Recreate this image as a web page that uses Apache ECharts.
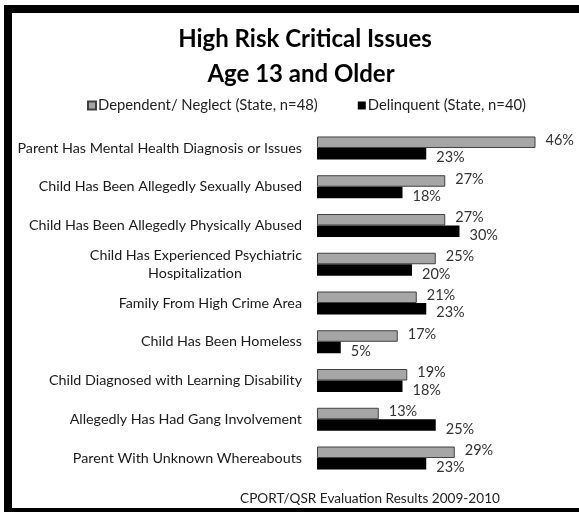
<!DOCTYPE html>
<html>
<head>
<meta charset="utf-8">
<script src="https://cdn.jsdelivr.net/npm/echarts@6/dist/echarts.min.js"></script>
<style>
html,body{margin:0;padding:0;background:#fff;}
#main{width:579px;height:512px;}
</style>
</head>
<body>
<div id="main"></div>
<script>
const categories = [
  'Parent Has Mental Health Diagnosis or Issues',
  'Child Has Been Allegedly Sexually Abused',
  'Child Has Been Allegedly Physically Abused',
  'Child Has Experienced Psychiatric\nHospitalization',
  'Family From High Crime Area',
  'Child Has Been Homeless',
  'Child Diagnosed with Learning Disability',
  'Allegedly Has Had Gang Involvement',
  'Parent With Unknown Whereabouts'
];
const dependentNeglect = [46, 27, 27, 25, 21, 17, 19, 13, 29];
const delinquent = [23, 18, 30, 20, 23, 5, 18, 25, 23];
const seriesNames = ['Dependent/ Neglect (State, n=48)', 'Delinquent (State, n=40)'];
const titleLines = ['High Risk Critical Issues', 'Age 13 and Older'];
const footer = 'CPORT/QSR Evaluation Results 2009-2010';

const FONT = 'Lato';
const CAT_FS = 14.3;
const chart = echarts.init(document.getElementById('main'));
chart.setOption({
  animation: false,
  backgroundColor: '#fff',
  textStyle: {fontFamily: FONT},
  title: [
    {text: titleLines[0], left: 300, top: 22, textAlign: 'center',
     textStyle: {fontFamily: FONT, fontSize: 24, fontWeight: 'bold', color: '#000'}},
    {text: titleLines[1], left: 296, top: 57, textAlign: 'center',
     textStyle: {fontFamily: FONT, fontSize: 24, fontWeight: 'bold', color: '#000'}},
    {text: footer, left: 365, top: 487, textAlign: 'center',
     textStyle: {fontFamily: FONT, fontSize: 13.6, fontWeight: 'normal', color: '#222'}}
  ],
  legend: {
    left: 82, top: 93, itemWidth: 8, itemHeight: 8, itemGap: 40,
    icon: 'rect',
    textStyle: {fontFamily: FONT, fontSize: 14.8, color: '#222', padding: [0,0,0,-3]},
    data: seriesNames
  },
  grid: {left: 317, right: 24.5, top: 128.6, bottom: 34.6, containLabel: false},
  xAxis: {type: 'value', min: 0, max: 50, show: false},
  yAxis: {
    type: 'category', inverse: true, data: categories,
    axisLine: {show: false}, axisTick: {show: false},
    axisLabel: {
      margin: 15, fontFamily: FONT, fontSize: CAT_FS, color: '#1a1a1a', lineHeight: 18,
      formatter: function (v) {
        if (v.indexOf('\n') >= 0) {
          const p = v.split('\n');
          return '{a|' + p[0] + '}\n{b|' + p[1] + '}';
        }
        return v;
      },
      rich: {
        a: {fontFamily: FONT, fontSize: CAT_FS, color: '#1a1a1a', lineHeight: 18},
        b: {fontFamily: FONT, fontSize: CAT_FS, color: '#1a1a1a', lineHeight: 18, width: 214, align: 'center'}
      }
    }
  },
  series: [
    {
      name: seriesNames[0], type: 'bar', data: dependentNeglect,
      barWidth: 11.5, barGap: '0%',
      itemStyle: {color: '#a6a6a6', borderColor: '#404040', borderWidth: 1},
      label: {show: true, position: 'right', distance: 10, offset: [0, -2],
        formatter: '{c}%', fontFamily: FONT, fontSize: 14.5, color: '#333'}
    },
    {
      name: seriesNames[1], type: 'bar', data: delinquent,
      barWidth: 11.5, barGap: '0%',
      itemStyle: {color: '#000'},
      label: {show: true, position: 'right', distance: 10, offset: [0, 4],
        formatter: '{c}%', fontFamily: FONT, fontSize: 14.5, color: '#333'}
    }
  ],
  graphic: [
    {type: 'rect', shape: {x: 4, y: 5, width: 8, height: 507}, style: {fill: '#000'}},
    {type: 'rect', shape: {x: 4, y: 5, width: 575, height: 8}, style: {fill: '#000'}},
    {type: 'rect', shape: {x: 4, y: 508, width: 575, height: 4}, style: {fill: '#000'}}
  ]
});
</script>
</body>
</html>
